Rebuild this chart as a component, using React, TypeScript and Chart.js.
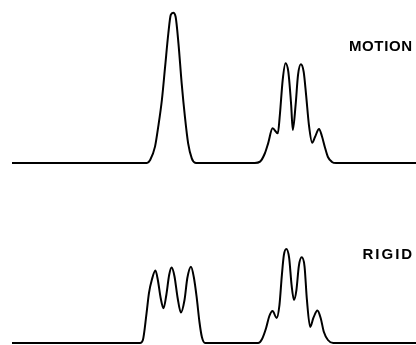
import React, { useEffect, useRef } from "react";
import { Chart, registerables } from "chart.js";

Chart.register(...registerables);

// Spectrum positions (arbitrary field units, 0 = start of trace, 100 = right edge)
const motionPos = [
  0, 33.4, 34.2, 35.4, 36.2, 37.1, 37.9, 38.7, 39.3, 39.9, 40.5, 41.2, 42.0, 42.8, 43.6, 44.5, 45.3, 46.0,
  60.1, 61.4, 62.6, 63.4, 64.5, 65.8, 66.3, 67.0, 67.7, 68.4, 69.1, 69.5, 70.2, 70.8, 71.5, 72.2, 72.8,
  73.5, 74.3, 75.0, 76.0, 76.7, 77.5, 78.2, 79.2, 80.2, 100,
];
// Intensities (arbitrary units, baseline 0)
const motionInt = [
  0, 0, 2.0, 10.9, 24.2, 42.0, 64.2, 86.5, 98.7, 100.2, 97.5, 79.8, 53.1, 30.9, 13.1, 3.1, 0.2, 0,
  0, 0.9, 6.5, 13.1, 23.1, 19.8, 32.0, 55.3, 66.5, 60.7, 38.7, 22.0, 38.7, 58.7, 65.8, 60.7, 45.3,
  25.3, 13.5, 17.3, 22.7, 18.0, 10.0, 4.0, 0.7, 0, 0,
];

const rigidPos = [
  0, 31.7, 32.4, 33.3, 33.9, 34.6, 35.5, 36.1, 36.8, 37.5, 38.2, 38.9, 39.5, 40.2, 41.0, 41.8, 42.7,
  43.4, 44.3, 45.0, 45.7, 46.4, 47.0, 47.8,
  60.9, 61.9, 62.9, 63.7, 64.5, 65.5, 66.2, 66.8, 67.3, 67.9, 68.6, 69.2, 69.8, 70.4, 71.0, 71.7, 72.4,
  73.0, 73.8, 74.6, 75.6, 76.4, 77.2, 78.2, 79.5, 100,
];
const rigidInt = [
  0, 0, 2.0, 19.8, 33.3, 42.0, 48.3, 42.0, 30.0, 23.1, 32.0, 45.3, 50.3, 44.7, 30.0, 20.3, 28.7,
  43.3, 50.9, 44.0, 30.7, 14.0, 4.0, 0,
  0, 2.7, 10.0, 18.0, 21.3, 16.7, 25.3, 45.3, 58.7, 62.7, 56.7, 38.7, 28.7, 35.3, 51.3, 57.1, 51.3,
  28.7, 10.7, 16.7, 21.7, 16.7, 7.3, 2.0, 0, 0,
];

const traceLabels = ["MOTION", "RIGID"];

const X_MIN = -2.97;
const X_MAX = 100;

type TraceProps = {
  pos: number[];
  vals: number[];
  top: number;
  height: number;
  yMin: number;
  yMax: number;
};

function Trace({ pos, vals, top, height, yMin, yMax }: TraceProps) {
  const ref = useRef<HTMLCanvasElement | null>(null);
  useEffect(() => {
    if (!ref.current) return;
    const chart = new Chart(ref.current, {
      type: "line",
      data: {
        datasets: [
          {
            data: pos.map((x, i) => ({ x, y: vals[i] })),
            borderColor: "#000",
            borderWidth: 2,
            pointRadius: 0,
            fill: false,
            cubicInterpolationMode: "monotone",
          },
        ],
      },
      options: {
        responsive: false,
        animation: false,
        events: [],
        layout: { padding: 0 },
        scales: {
          x: { type: "linear", min: X_MIN, max: X_MAX, display: false },
          y: { type: "linear", min: yMin, max: yMax, display: false },
        },
        plugins: {
          legend: { display: false },
          tooltip: { enabled: false },
          title: { display: false },
        },
      },
    });
    return () => chart.destroy();
  }, [pos, vals, yMin, yMax]);
  return (
    <canvas
      ref={ref}
      width={416}
      height={height}
      style={{ position: "absolute", left: 0, top, width: 416, height }}
    />
  );
}

const labelStyle: React.CSSProperties = {
  position: "absolute",
  fontFamily: '"Liberation Sans", Arial, sans-serif',
  fontSize: 15,
  fontWeight: 700,
  lineHeight: "15px",
  color: "#000",
  whiteSpace: "nowrap",
};

export default function App() {
  return (
    <div
      style={{
        position: "fixed",
        left: 0,
        top: 0,
        width: 416,
        height: 345,
        background: "#fff",
        overflow: "hidden",
      }}
    >
      <Trace pos={motionPos} vals={motionInt} top={0} height={170} yMin={-4.667} yMax={108.667} />
      <Trace pos={rigidPos} vals={rigidInt} top={170} height={175} yMin={-1.333} yMax={115.333} />
      <div style={{ ...labelStyle, left: 349, top: 38, letterSpacing: "0.6px" }}>{traceLabels[0]}</div>
      <div style={{ ...labelStyle, left: 362.5, top: 245.5, letterSpacing: "2px" }}>{traceLabels[1]}</div>
    </div>
  );
}
